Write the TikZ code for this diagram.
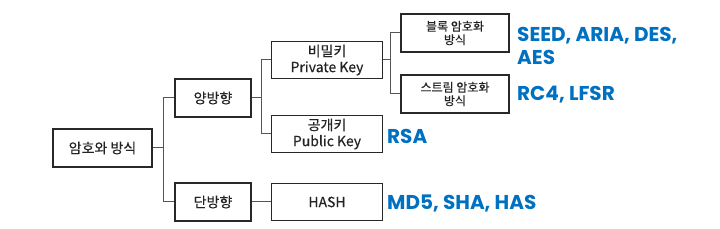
\documentclass[tikz,border=0pt]{standalone}
\usepackage{fontspec}
\usepackage{tikz}
\setmainfont{Noto Sans CJK KR}
\newfontfamily\boxface{Noto Sans CJK KR}[FakeBold=0.3]
\newfontfamily\blueface{Poppins}[BoldFont={* Bold}]
\usetikzlibrary{
    positioning,
    calc
}
\definecolor{boxC} {RGB}{40, 40, 40}
\definecolor{lineC}{RGB}{85, 85, 85}
\definecolor{txtC} {RGB}{35, 35, 35}
\definecolor{algC} {RGB}{0, 112, 192}
\tikzset{
  block/.style   = {draw=boxC, line width=1.6pt, minimum width=99pt,
                    minimum height=38pt, align=center, text=txtC,
                    font=\boxface\fontsize{14}{16}\selectfont,
                    inner sep=0pt},
  mblock/.style  = {block, minimum width=76pt},
  kblock/.style  = {block, minimum width=111pt, minimum height=37pt},
  sblock/.style  = {block, minimum width=108pt,
                    font=\boxface\fontsize{12}{13.5}\selectfont},
  conn/.style    = {lineC, line width=1pt},
  alg/.style     = {anchor=west, align=left, text=algC, inner sep=0pt,
                    font=\blueface\bfseries\fontsize{20}{23}\selectfont}
}

\begin{document}
\begin{tikzpicture}[x=1pt, y=-1pt]
  \useasboundingbox (0,0) rectangle (720,229);

  %% ── Boxes ─────────────────────────────────────────────────────
  \node[block]  (root)   at (102.5,148) {암호와 방식};
  \node[mblock] (twoway) at (213, 98)   {양방향};
  \node[mblock] (oneway) at (213,202)   {단방향};
  \node[kblock] (secret) at (327, 60)   {비밀키\\Private Key};
  \node[kblock] (public) at (327,134)   {공개키\\Public Key};
  \node[kblock] (hash)   at (327,202)   {HASH};
  \node[sblock] (blockc) at (455, 33)   {블록 암호화\\방식};
  \node[sblock] (stream) at (455, 94)   {스트림 암호화\\방식};

  %% ── Algorithms ────────────────────────────────────────────────
  \node[alg] (algblock)  at (517, 45.5) {SEED, ARIA, DES,\\AES};
  \node[alg] (algstream) at (517, 95)   {RC4, LFSR};
  \node[alg] (algpublic) at (387,136)   {RSA};
  \node[alg] (alghash)   at (387,203)   {MD5, SHA, HAS};

  %% ── Branch points ─────────────────────────────────────────────
  \coordinate (j1) at (163,148);
  \coordinate (j2) at (261, 98);
  \coordinate (j3) at (390, 60);

  %% ── Connectors ────────────────────────────────────────────────
  \draw[conn] (root.east)   -- (j1);
  \draw[conn] (j1) |- (twoway.west);
  \draw[conn] (j1) |- (oneway.west);
  \draw[conn] (twoway.east) -- (j2);
  \draw[conn] (j2) |- (secret.west);
  \draw[conn] (j2) |- (public.west);
  \draw[conn] (oneway.east) -- (hash.west);
  \draw[conn] (secret.east) -- (j3);
  \draw[conn] (j3) |- (blockc.west);
  \draw[conn] (j3) |- (stream.west);

\end{tikzpicture}
\end{document}
